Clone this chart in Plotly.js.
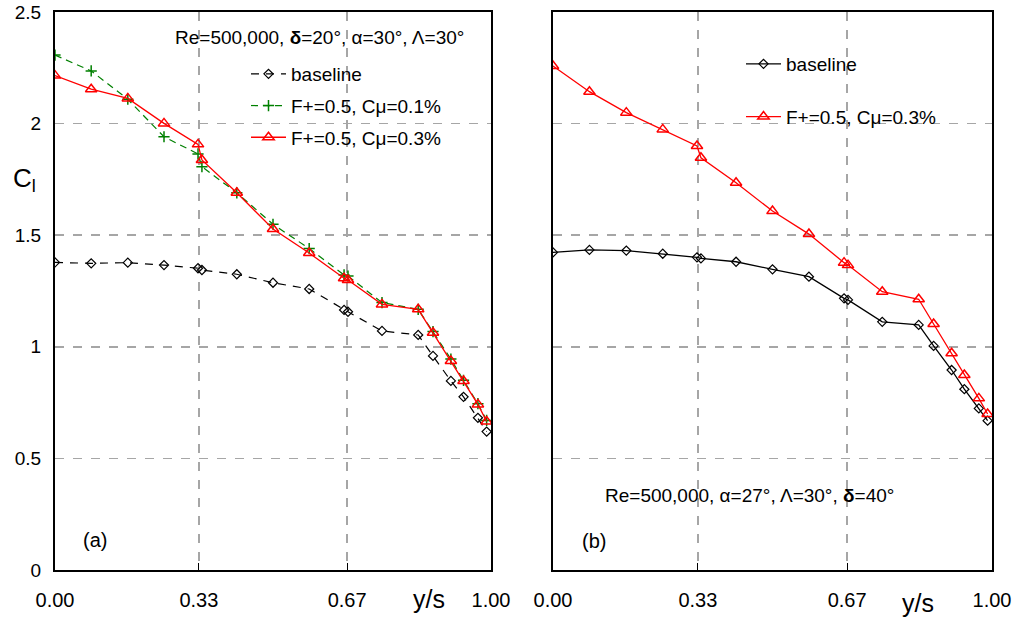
<!DOCTYPE html>
<html>
<head>
<meta charset="utf-8">
<script src="https://cdn.plot.ly/plotly-3.0.1.min.js"></script>
<style>html,body{margin:0;padding:0;background:#fff;}#chart{width:1014px;height:619px;}</style>
</head>
<body>
<div id="chart"></div>
<script>
// Spanwise stations y/s (same for every series)
const spanStations = [0, 0.083, 0.167, 0.25, 0.328, 0.337, 0.417, 0.5, 0.583, 0.663, 0.672, 0.75, 0.833, 0.867, 0.908, 0.937, 0.97, 0.99];

// Panel (a): delta = 20 deg
const clBaselineA = [1.378, 1.374, 1.377, 1.366, 1.352, 1.344, 1.325, 1.287, 1.259, 1.165, 1.157, 1.071, 1.053, 0.959, 0.847, 0.776, 0.682, 0.620];
const clCmu01A    = [2.307, 2.236, 2.109, 1.941, 1.864, 1.807, 1.690, 1.549, 1.440, 1.322, 1.317, 1.198, 1.168, 1.068, 0.945, 0.850, 0.745, 0.670];
const clCmu03A    = [2.215, 2.154, 2.113, 2.001, 1.907, 1.837, 1.690, 1.528, 1.420, 1.307, 1.299, 1.190, 1.168, 1.063, 0.936, 0.847, 0.742, 0.665];

// Panel (b): delta = 40 deg
const clBaselineB = [1.423, 1.434, 1.431, 1.417, 1.401, 1.396, 1.381, 1.347, 1.314, 1.217, 1.210, 1.112, 1.098, 1.004, 0.896, 0.810, 0.724, 0.669];
const clCmu03B    = [2.258, 2.143, 2.049, 1.974, 1.900, 1.847, 1.735, 1.608, 1.505, 1.377, 1.366, 1.247, 1.213, 1.102, 0.971, 0.874, 0.769, 0.699];

const seriesNames = ['baseline', 'F+=0.5, Cμ=0.1%', 'F+=0.5, Cμ=0.3%'];
const xTickVals = [0, 0.33, 0.67, 1];
const xTickText = ['0.00', '0.33', '0.67', '1.00'];
const yTickVals = [0, 0.5, 1, 1.5, 2, 2.5];
const yTickText = ['0', '0.5', '1', '1.5', '2', '2.5'];

const FONT = 'Liberation Sans, Arial, Helvetica, sans-serif';
const RED = '#ff0000', GREEN = '#008000', BLACK = '#000000';

const traces = [
  {x: spanStations, y: clBaselineA, name: seriesNames[0], xaxis: 'x', yaxis: 'y', legend: 'legend', legendgroup: 'a1',
   mode: 'lines+markers', line: {color: BLACK, width: 1.2, dash: '8px,7px'},
   marker: {symbol: 'diamond-open', size: 7, color: BLACK, line: {width: 1.2}}},
  {x: spanStations, y: clCmu01A, name: seriesNames[1], xaxis: 'x', yaxis: 'y', legend: 'legend', legendgroup: 'a2',
   mode: 'lines+markers', line: {color: GREEN, width: 1.2, dash: '7px,5px'},
   marker: {symbol: 'cross-thin-open', size: 8, color: GREEN, line: {width: 1.5, color: GREEN}}},
  {x: spanStations, y: clCmu03A, name: seriesNames[2], xaxis: 'x', yaxis: 'y', legend: 'legend', legendgroup: 'a3',
   mode: 'lines+markers', line: {color: RED, width: 1.3},
   marker: {symbol: 'triangle-up-open', size: 10, color: RED, line: {width: 1.5}}},
  {x: spanStations, y: clBaselineB, name: seriesNames[0], xaxis: 'x2', yaxis: 'y2', legend: 'legend2', legendgroup: 'b1',
   mode: 'lines+markers', line: {color: BLACK, width: 1.3},
   marker: {symbol: 'diamond-open', size: 7, color: BLACK, line: {width: 1.2}}},
  {x: spanStations, y: clCmu03B, name: seriesNames[2], xaxis: 'x2', yaxis: 'y2', legend: 'legend2', legendgroup: 'b2',
   mode: 'lines+markers', line: {color: RED, width: 1.3},
   marker: {symbol: 'triangle-up-open', size: 10, color: RED, line: {width: 1.5}}}
];

const W = 1014, H = 619;
const yDom = [(H - 570) / H, (H - 12) / H];

function xAxisCfg(dom, anchor) {
  return {
    domain: dom, anchor: anchor, range: [0, 1], tickvals: xTickVals, ticktext: xTickText,
    ticks: 'inside', ticklen: 7, tickcolor: BLACK, tickwidth: 1,
    showline: true, linecolor: BLACK, linewidth: 2, mirror: true,
    showgrid: true, gridcolor: '#a6a6a6', griddash: 'dash', gridwidth: 1.5,
    zeroline: false, tickfont: {family: FONT, size: 20, color: BLACK}, ticklabelstandoff: 11
  };
}
function yAxisCfg(anchor, labels) {
  return {
    domain: yDom, anchor: anchor, range: [0, 2.5], tickvals: yTickVals, ticktext: yTickText,
    showticklabels: labels, ticks: '',
    showline: true, linecolor: BLACK, linewidth: 2, mirror: true,
    showgrid: true, gridcolor: '#a6a6a6', griddash: 'dash', gridwidth: 1.5,
    zeroline: false, tickfont: {family: FONT, size: 19, color: BLACK}, ticklabelstandoff: 8
  };
}

function ann(text, px, py, size) {
  return {text: text, xref: 'paper', yref: 'paper', x: px / W, y: 1 - py / H,
          xanchor: 'center', yanchor: 'middle', showarrow: false,
          font: {family: FONT, size: size, color: BLACK}};
}

const layout = {
  width: W, height: H,
  margin: {l: 0, r: 0, t: 0, b: 0},
  paper_bgcolor: '#fff', plot_bgcolor: '#fff',
  font: {family: FONT, color: BLACK},
  showlegend: true,
  xaxis: xAxisCfg([55 / W, 491 / W], 'y'),
  yaxis: yAxisCfg('x', true),
  xaxis2: xAxisCfg([553 / W, 992 / W], 'y2'),
  yaxis2: yAxisCfg('x2', false),
  legend: {x: 246 / W, y: 1 - 55 / H, xanchor: 'left', yanchor: 'top', bgcolor: 'rgba(0,0,0,0)',
           font: {family: FONT, size: 19, color: BLACK}, tracegroupgap: 4, itemwidth: 35},
  legend2: {x: 741 / W, y: 1 - 45 / H, xanchor: 'left', yanchor: 'top', bgcolor: 'rgba(0,0,0,0)',
            font: {family: FONT, size: 19, color: BLACK}, tracegroupgap: 25, itemwidth: 35},
  annotations: [
    ann('Re=500,000, <b>δ</b>=20°, α=30°, Λ=30°', 319, 38, 19),
    ann('Re=500,000, α=27°, Λ=30°, <b>δ</b>=40°', 749, 495, 19),
    ann('C<sub>l</sub>', 24, 180, 26),
    ann('y/s', 429, 599, 25),
    ann('y/s', 918, 603, 25),
    ann('(a)', 95, 540, 20),
    ann('(b)', 594, 541, 20)
  ]
};

Plotly.newPlot('chart', traces, layout, {displayModeBar: false, staticPlot: true});
</script>
</body>
</html>
